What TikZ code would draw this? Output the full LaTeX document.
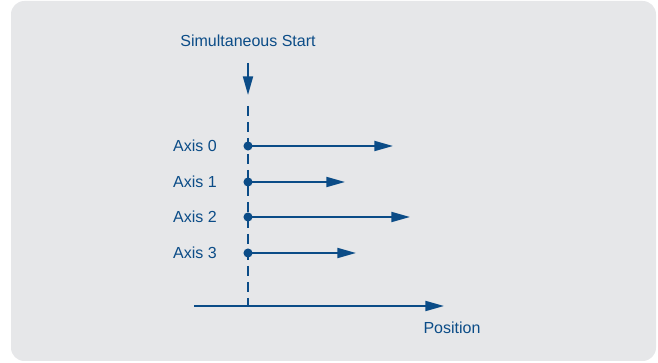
\documentclass[tikz,border=0pt]{standalone}
\usepackage{fontspec}
\setmainfont{Liberation Sans}
\usetikzlibrary{arrows.meta}
\definecolor{axBlue}{HTML}{0B4C87}
\definecolor{bgGray}{HTML}{E6E7E9}
\begin{document}
\begin{tikzpicture}[x=0.75pt,y=-0.75pt,font=\fontsize{12}{14}\selectfont,
  txt/.style={text=axBlue,inner sep=0pt},
  dot/.style={circle,fill=axBlue,inner sep=0pt,minimum size=6.8pt},
  msg/.style={-{Triangle[length=14pt,width=7.5pt]},axBlue,line width=1.5pt},
  sync/.style={axBlue,line width=1.5pt,dash pattern=on 7.5pt off 4.5pt}]
  \useasboundingbox (0,0) rectangle (658,363);
  \fill[bgGray,rounded corners=10pt] (11,1) rectangle (656,361);
  \node[txt] (start) at (248,41) {Simultaneous Start};
  \coordinate (s0) at (248,63);
  \coordinate (s1) at (248,95);
  \draw[msg] (s0) -- (s1);
  \coordinate (dtop) at (248,106);
  \coordinate (dbot) at (248,306);
  \draw[sync] (dtop) -- (dbot);
  \foreach \i/\y/\xe in {0/146/393,1/182/345,2/217/410,3/253/356}{
    \node[txt] (lab\i) at (195,\y) {Axis \i};
    \node[dot] (d\i) at (248,\y) {};
    \coordinate (e\i) at (\xe,\y);
    \draw[msg] (d\i.center) -- (e\i);
  }
  \coordinate (p0) at (194,306);
  \coordinate (p1) at (444,306);
  \draw[msg] (p0) -- (p1);
  \node[txt] (pos) at (452,328) {Position};
\end{tikzpicture}
\end{document}
